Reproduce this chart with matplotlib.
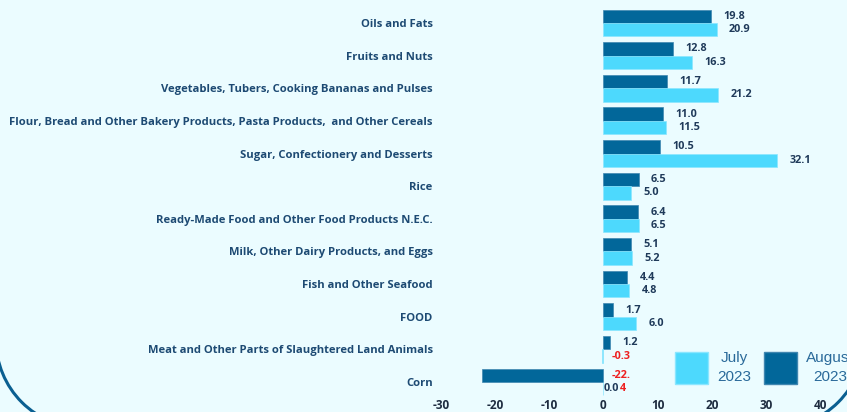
import matplotlib
matplotlib.use("Agg")
import matplotlib.pyplot as plt
import numpy as np
from matplotlib.patches import Patch, Arc
from matplotlib.transforms import IdentityTransform

# data, top to bottom as in the picture
categories = [
    "Oils and Fats",
    "Fruits and Nuts",
    "Vegetables, Tubers, Cooking Bananas and Pulses",
    "Flour, Bread and Other Bakery Products, Pasta Products,  and Other Cereals",
    "Sugar, Confectionery and Desserts",
    "Rice",
    "Ready-Made Food and Other Food Products N.E.C.",
    "Milk, Other Dairy Products, and Eggs",
    "Fish and Other Seafood",
    "FOOD",
    "Meat and Other Parts of Slaughtered Land Animals",
    "Corn",
]
august = [19.8, 12.8, 11.7, 11.0, 10.5, 6.5, 6.4, 5.1, 4.4, 1.7, 1.2, -22.4]
july = [20.9, 16.3, 21.2, 11.5, 32.1, 5.0, 6.5, 5.2, 4.8, 6.0, -0.3, 0.0]
xticks = [-30, -20, -10, 0, 10, 20, 30, 40]

BG = "#ebfcff"
DARK = "#02679a"
LIGHT = "#4dd9fd"
LABEL_C = "#1d4a73"
VAL_C = "#1f3a5a"
RED = "#ee2020"

fig = plt.figure(figsize=(8.47, 4.12), dpi=100, facecolor=BG)
ax = fig.add_axes([441/847, 14/412, 379/847, 394/412])
ax.set_facecolor(BG)

y = np.arange(len(categories))
h = 0.41
ax.barh(y - h/2, august, height=h, color=DARK, edgecolor="#3f86b0", linewidth=0.5)
ax.barh(y + h/2, july, height=h, color=LIGHT, edgecolor="#8ae6ff", linewidth=0.5)

ax.set_xlim(-30, 40)
ax.set_ylim(11.49, -0.58)
ax.set_xticks(xticks)
ax.set_xticklabels([str(t) for t in xticks], fontsize=8.5, fontweight="bold",
                   color="#1e2c40", family="Open Sans")
ax.set_yticks(y)
ax.set_yticklabels(categories, fontsize=8.1, fontweight="bold", color=LABEL_C,
                   family="Open Sans")
ax.tick_params(axis="both", length=0)
ax.tick_params(axis="y", pad=6)
ax.tick_params(axis="x", pad=1)
for s in ax.spines.values():
    s.set_visible(False)

# value labels
def put(v, yy, txt=None):
    if txt is None:
        txt = f"{v:.1f}"
    if v > 0:
        ax.annotate(txt, (v, yy), xytext=(9, 0), textcoords="offset points",
                    va="center", ha="left", fontsize=7.8, fontweight="bold",
                    color=VAL_C, family="Open Sans")
    elif v < 0:
        ax.annotate(txt, (0, yy), xytext=(6, 0), textcoords="offset points",
                    va="center", ha="left", fontsize=7.8, fontweight="bold",
                    color=RED, family="Open Sans")
    else:
        ax.annotate(txt, (0, yy), xytext=(0, 0), textcoords="offset points",
                    va="center", ha="left", fontsize=7.8, fontweight="bold",
                    color=VAL_C, family="Open Sans")

for i in range(len(categories)):
    if august[i] == -22.4:
        # label wraps in the original
        put(august[i], y[i] - h/2, "-22.")
        ax.annotate("4", (0, y[i] + h/2), xytext=(12, 0), textcoords="offset points",
                    va="center", ha="left", fontsize=7.8, fontweight="bold",
                    color=RED, family="Open Sans")
    else:
        put(august[i], y[i] - h/2)
    put(july[i], y[i] + h/2)

# legend
handles = [Patch(facecolor=LIGHT, edgecolor="#8ae6ff"),
           Patch(facecolor=DARK, edgecolor="#3f86b0")]
leg = fig.legend(handles, ["July\n2023", "August\n2023"], loc="lower left",
                 bbox_to_anchor=(667/847, 20/412), ncol=2, frameon=False,
                 prop={"family": "Liberation Sans", "size": 11},
                 handlelength=2.2, handleheight=2.9, handletextpad=0.6,
                 columnspacing=0.8, borderpad=0)
for t in leg.get_texts():
    t.set_color("#2a6a9a")
    t.set_multialignment("center")
    t.set_linespacing(1.45)

# rounded corners of a frame that runs off the picture (display pixels)
r = 88
for cx, t1, t2 in [(84, 180, 270), (776, 270, 360)]:
    fig.patches.append(Arc((cx, 72), 2*r, 2*r, theta1=t1, theta2=t2,
                           transform=IdentityTransform(), color="#0a5f91",
                           linewidth=2.2, clip_on=False))

fig.savefig("out.png", dpi=100, facecolor=BG)
